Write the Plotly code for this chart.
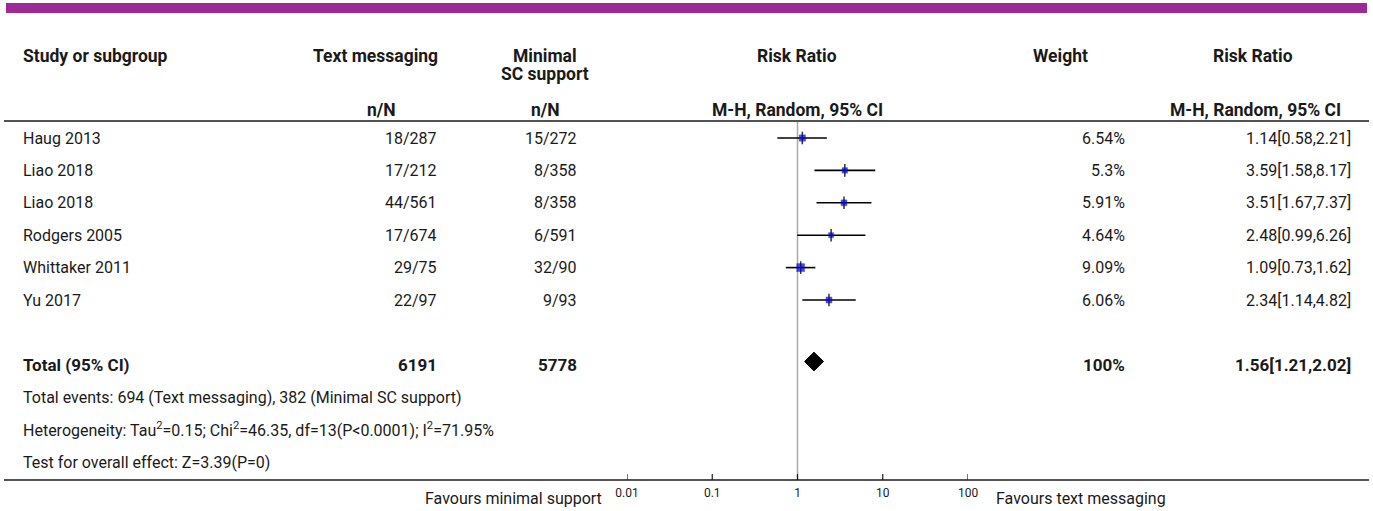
import math
import plotly.graph_objects as go

studies = ["Haug 2013", "Liao 2018", "Liao 2018", "Rodgers 2005", "Whittaker 2011", "Yu 2017"]
text_nN = ["18/287", "17/212", "44/561", "17/674", "29/75", "22/97"]
ctrl_nN = ["15/272", "8/358", "8/358", "6/591", "32/90", "9/93"]
weights = [6.54, 5.3, 5.91, 4.64, 9.09, 6.06]
rr = [1.14, 3.59, 3.51, 2.48, 1.09, 2.34]
lo = [0.58, 1.58, 1.67, 0.99, 0.73, 1.14]
hi = [2.21, 8.17, 7.37, 6.26, 1.62, 4.82]
weight_labels = ["6.54%", "5.3%", "5.91%", "4.64%", "9.09%", "6.06%"]

total_label = "Total (95% CI)"
total_text_N = "6191"
total_ctrl_N = "5778"
total_weight = "100%"
total_rr, total_lo, total_hi = 1.56, 1.21, 2.02
footer_lines = [
    "Total events: 694 (Text messaging), 382 (Minimal SC support)",
    "Heterogeneity: Tau<sup>2</sup>=0.15; Chi<sup>2</sup>=46.35, df=13(P<0.0001); I<sup>2</sup>=71.95%",
    "Test for overall effect: Z=3.39(P=0)",
]
tick_vals = [0.01, 0.1, 1, 10, 100]
tick_text = ["0.01", "0.1", "1", "10", "100"]
left_label = "Favours minimal support"
right_label = "Favours text messaging"

W, H = 1373, 511
FONT = "Roboto"
FS = 16
HFS = 17.5
TFS = 17
COL = "#1a1a1a"

def px(x):
    return x / W

def py(p):
    return 1 - p / H

row0, step = 138.0, 32.4

def rowpix(p):
    return (p - row0) / step

AXIS_Y = 480
fig = go.Figure()

xs, ys = [], []
for i in range(len(studies)):
    xs += [lo[i], hi[i], None]
    ys += [i, i, None]
fig.add_trace(go.Scatter(x=xs, y=ys, mode="lines", line=dict(color="black", width=1.6),
                         hoverinfo="skip", showlegend=False))
fig.add_trace(go.Scatter(x=rr, y=list(range(len(studies))), mode="markers",
                         marker=dict(symbol="line-ns", size=9, line=dict(color="#333333", width=1.5)),
                         hoverinfo="skip", showlegend=False))
fig.add_trace(go.Scatter(x=rr, y=list(range(len(studies))), mode="markers",
                         marker=dict(symbol="square", size=[2 + 0.65 * w for w in weights],
                                     color="#0000DD", line=dict(color="#000080", width=0.5)),
                         hoverinfo="skip", showlegend=False))
total_row = 7
yc = total_row - 0.1
dh = 0.29
fig.add_trace(go.Scatter(x=[total_lo, total_rr, total_hi, total_rr, total_lo],
                         y=[yc, yc - dh, yc, yc + dh, yc],
                         mode="lines", fill="toself", fillcolor="black",
                         line=dict(color="black", width=1), hoverinfo="skip", showlegend=False))

ax_l, ax_r = 627, 968
fig.update_layout(
    width=W, height=H, margin=dict(l=0, r=0, t=0, b=0, autoexpand=False),
    paper_bgcolor="white", plot_bgcolor="rgba(0,0,0,0)",
    font=dict(family=FONT, size=FS, color=COL),
    xaxis=dict(type="log", range=[-2, 2], domain=[px(ax_l), px(ax_r)],
               showgrid=False, zeroline=False, showline=False, fixedrange=True,
               tickvals=tick_vals, ticktext=tick_text, ticks="",
               tickfont=dict(size=12, family=FONT, color=COL),
               ticklabelstandoff=4, automargin=False),
    yaxis=dict(range=[rowpix(AXIS_Y), rowpix(0)], domain=[py(AXIS_Y), 1], showgrid=False,
               zeroline=False, showticklabels=False, showline=False, fixedrange=True,
               automargin=False),
    showlegend=False,
)

shapes = []
shapes.append(dict(type="rect", xref="paper", yref="paper", x0=px(6), x1=px(1367),
                   y0=py(13), y1=py(3), fillcolor="#A0299A", line=dict(width=0), layer="below"))
for yp in (121, AXIS_Y):
    shapes.append(dict(type="line", xref="paper", yref="paper", x0=px(4), x1=px(1369),
                       y0=py(yp), y1=py(yp), line=dict(color=COL, width=1.6)))
shapes.append(dict(type="line", xref="x", yref="y", x0=1, x1=1, y0=rowpix(122), y1=rowpix(AXIS_Y),
                   line=dict(color="#AAAAAA", width=1.5), layer="below"))
for t in tick_vals:
    shapes.append(dict(type="line", xref="x", yref="paper", x0=t, x1=t, y0=py(AXIS_Y), y1=py(AXIS_Y - 6),
                       line=dict(color=COL, width=1.2)))
fig.update_layout(shapes=shapes)

ann = []
def add(text, xp, yp_row, anchor="left", bold=False, size=FS, yref="y"):
    t = f"<b>{text}</b>" if bold else text
    ann.append(dict(text=t, x=px(xp), y=yp_row, xref="paper", yref=yref, xanchor=anchor,
                    yanchor="middle", showarrow=False, borderpad=0,
                    font=dict(size=size, family=FONT, color=COL)))

add("Study or subgroup", 22, rowpix(56), bold=True, size=HFS)
add("Text messaging", 375, rowpix(56), "center", bold=True, size=HFS)
add("Minimal", 545, rowpix(56), "center", bold=True, size=HFS)
add("SC support", 545, rowpix(74), "center", bold=True, size=HFS)
add("Risk Ratio", 797, rowpix(56), "center", bold=True, size=HFS)
add("Weight", 1060, rowpix(56), "center", bold=True, size=HFS)
add("Risk Ratio", 1253, rowpix(56), "center", bold=True, size=HFS)
add("n/N", 381, rowpix(110), "center", bold=True, size=HFS)
add("n/N", 545, rowpix(110), "center", bold=True, size=HFS)
add("M-H, Random, 95% CI", 797, rowpix(110), "center", bold=True, size=HFS)
add("M-H, Random, 95% CI", 1342, rowpix(110), "right", bold=True, size=HFS)

for i in range(len(studies)):
    add(studies[i], 22, i)
    add(text_nN[i], 438, i, "right")
    add(ctrl_nN[i], 578, i, "right")
    add(weight_labels[i], 1126, i, "right")
    add(f"{rr[i]:.2f}[{lo[i]:.2f},{hi[i]:.2f}]", 1352, i, "right")

add(total_label, 22, total_row, bold=True, size=TFS)
add(total_text_N, 438, total_row, "right", bold=True, size=TFS)
add(total_ctrl_N, 578, total_row, "right", bold=True, size=TFS)
add(total_weight, 1126, total_row, "right", bold=True, size=TFS)
add(f"{total_rr:.2f}[{total_lo:.2f},{total_hi:.2f}]", 1352, total_row, "right", bold=True, size=TFS)

for k, line in enumerate(footer_lines):
    add(line, 22, total_row + 1 + k)

add(left_label, 603, py(498), "right", yref="paper")
add(right_label, 995, py(498), "left", yref="paper")

fig.update_layout(annotations=ann)
fig.write_html(
    "out.html",
    config={"displayModeBar": False},
    post_script="document.body.style.margin='0px';document.documentElement.style.overflow='hidden';document.body.style.overflow='hidden';",
)
